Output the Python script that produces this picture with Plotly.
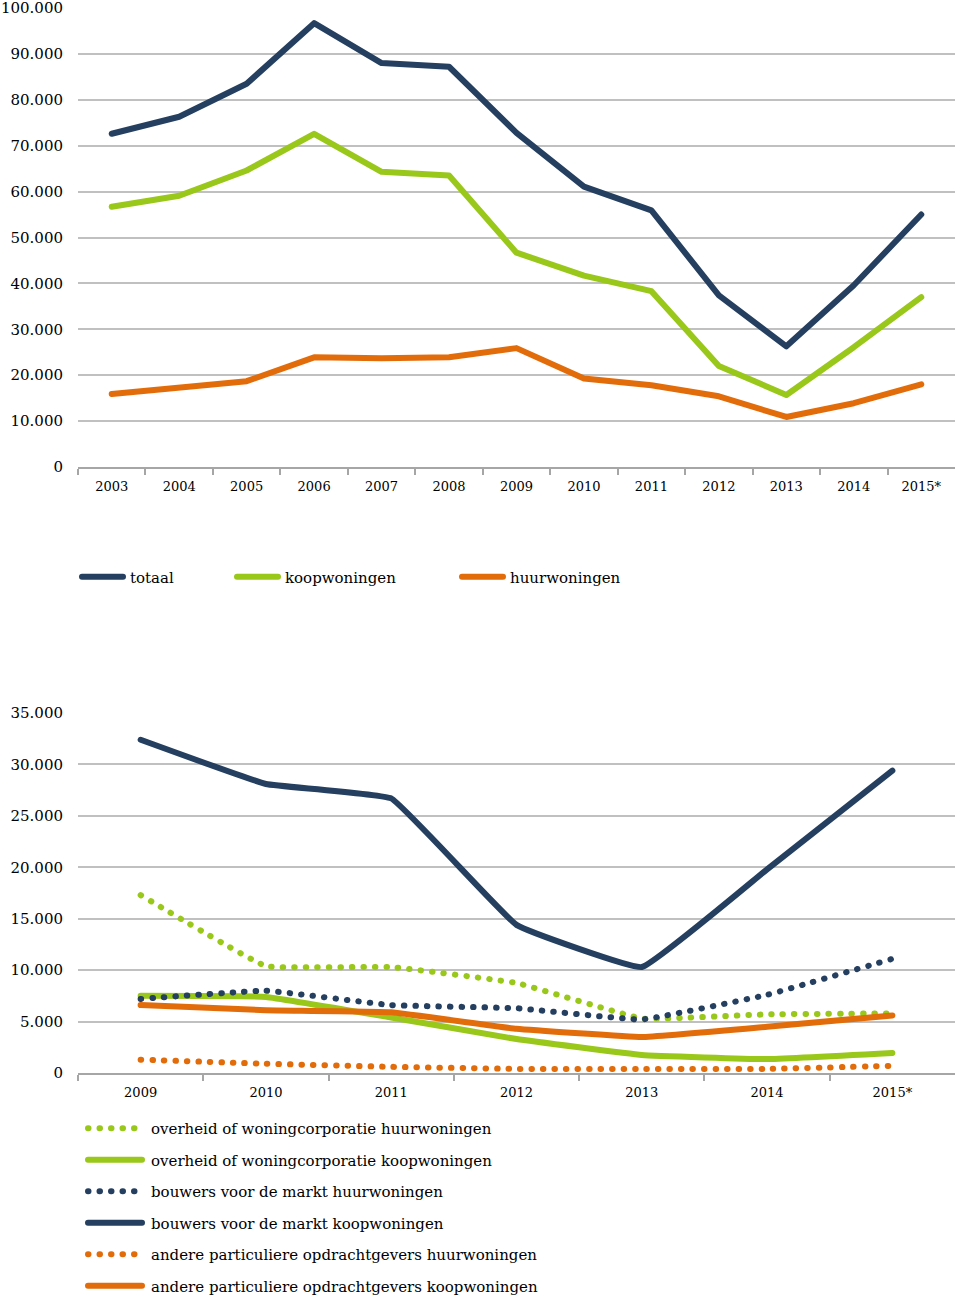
import plotly.graph_objects as go

# ---- data: top chart ----
years_top = ["2003", "2004", "2005", "2006", "2007", "2008", "2009",
             "2010", "2011", "2012", "2013", "2014", "2015*"]
totaal = [72600, 76300, 83500, 96700, 88000, 87200, 72800, 61100, 55900, 37400, 26300, 39600, 55000]
koopwoningen = [56700, 59100, 64600, 72600, 64300, 63500, 46700, 41700, 38300, 22000, 15700, 26100, 37000]
huurwoningen = [15900, 17400, 18700, 23900, 23700, 23900, 25900, 19300, 17800, 15400, 10900, 13900, 18000]

# ---- data: bottom chart ----
years_bot = ["2009", "2010", "2011", "2012", "2013", "2014", "2015*"]
ov_huur = [17300, 10400, 10300, 8750, 5300, 5700, 5800]
ov_koop = [7500, 7400, 5400, 3300, 1750, 1350, 1950]
bw_huur = [7200, 8000, 6600, 6300, 5200, 7600, 11100]
bw_koop = [32400, 28100, 26700, 14400, 10300, 19800, 29400]
ap_huur = [1300, 900, 600, 400, 400, 400, 700]
ap_koop = [6600, 6100, 5900, 4300, 3500, 4500, 5600]

NAVY = "#243F60"
GREEN = "#99C71A"
ORANGE = "#E36C0A"
FONT = "DejaVu Serif"
TXT = "#000"
DOT = "0.5px,11px"

W, H = 960, 1298

fig = go.Figure()

top_series = [("totaal", totaal, NAVY, "legend"),
              ("koopwoningen", koopwoningen, GREEN, "legend3"),
              ("huurwoningen", huurwoningen, ORANGE, "legend4")]
for name, vals, col, lg in top_series:
    fig.add_trace(go.Scatter(x=years_top, y=vals, name=name, mode="lines",
                             line=dict(color=col, width=6),
                             xaxis="x", yaxis="y", legend=lg))

bot_series = [
    ("overheid of woningcorporatie huurwoningen", ov_huur, GREEN, DOT, 6),
    ("overheid of woningcorporatie koopwoningen", ov_koop, GREEN, "solid", 6),
    ("bouwers voor de markt huurwoningen", bw_huur, NAVY, DOT, 6),
    ("bouwers voor de markt koopwoningen", bw_koop, NAVY, "solid", 6),
    ("andere particuliere opdrachtgevers huurwoningen", ap_huur, ORANGE, DOT, 6),
    ("andere particuliere opdrachtgevers koopwoningen", ap_koop, ORANGE, "solid", 6),
]
for i, (name, vals, col, dash, w) in enumerate(bot_series):
    fig.add_trace(go.Scatter(x=years_bot, y=vals, name=name, mode="lines",
                             line=dict(color=col, width=w, dash=dash,
                                       shape="spline", smoothing=0.25),
                             xaxis="x2", yaxis="y2", legend="legend2",
                             legendgroup="g%d" % i))

def py(p):  # pixel y (from top) -> paper
    return (H - p) / H

x0, x1 = 78 / W, 955 / W
axis_common = dict(showgrid=False, showline=True, linecolor="#A6A6A6", linewidth=1.5,
                   ticks="outside", tickson="boundaries", ticklen=6, tickcolor="#A6A6A6",
                   tickwidth=1.5, tickfont=dict(family=FONT, size=13, color=TXT),
                   ticklabelstandoff=7, fixedrange=True, automargin=False,
                   ticklabeloverflow="allow")
yaxis_common = dict(showgrid=True, gridcolor="#C0C0C0", gridwidth=1.5, zeroline=False,
                    showline=False, tickformat=",d",
                    tickfont=dict(family=FONT, size=15, color=TXT),
                    ticklabelstandoff=14, fixedrange=True, automargin=False,
                    ticklabeloverflow="allow")

leg_common = dict(orientation="h", bgcolor="rgba(0,0,0,0)", xanchor="left",
                  yanchor="middle", font=dict(family=FONT, size=15, color=TXT))

fig.update_layout(
    width=W, height=H,
    margin=dict(l=0, r=0, t=0, b=0, autoexpand=False),
    paper_bgcolor="white", plot_bgcolor="white",
    separators=",.",
    xaxis=dict(domain=[x0, x1], anchor="y", range=[-0.5, len(years_top) - 0.5], **axis_common),
    yaxis=dict(domain=[py(467), py(8)], anchor="x", range=[0, 100000], dtick=10000, **yaxis_common),
    xaxis2=dict(domain=[x0, x1], anchor="y2", range=[-0.5, len(years_bot) - 0.5], **axis_common),
    yaxis2=dict(domain=[py(1073), py(713)], anchor="x2", range=[0, 35000], dtick=5000, **yaxis_common),
    legend=dict(x=90 / W, y=py(577), **leg_common),
    legend3=dict(x=245 / W, y=py(577), **leg_common),
    legend4=dict(x=470 / W, y=py(577), **leg_common),
    legend2=dict(x=111 / W, y=py(1112), xanchor="left", yanchor="top",
                 orientation="v", tracegroupgap=9, bgcolor="rgba(0,0,0,0)",
                 font=dict(family=FONT, size=15, color=TXT)),
    showlegend=True,
)

post = """
document.body.style.margin='0';
document.body.style.overflow='hidden';
document.querySelectorAll('path.js-line, .legendlines path').forEach(function(p){
  p.style.strokeLinecap='round'; p.style.strokeLinejoin='round';
});
document.querySelectorAll('g.infolayer > g').forEach(function(g){
  var c = g.getAttribute('class') || '';
  var d = null;
  if (c === 'legend' || c === 'legend3' || c === 'legend4') d = 'M-8,0h41';
  else if (c === 'legend2') d = 'M-23,0h54';
  if (d) {
    g.querySelectorAll('[clip-path]').forEach(function(e){ e.removeAttribute('clip-path'); });
    g.querySelectorAll('.legendlines path').forEach(function(p){ p.setAttribute('d', d); });
  }
});
"""
fig.write_html("out.html", post_script=post, config={"displayModeBar": False})
